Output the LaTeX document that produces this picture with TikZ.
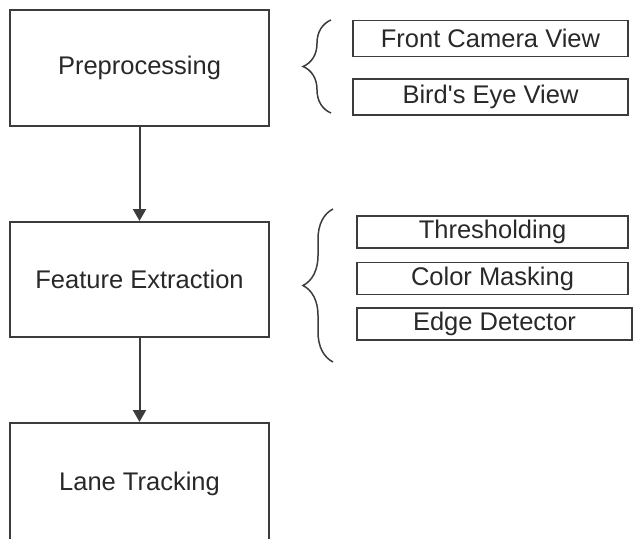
\documentclass[tikz,border=0pt]{standalone}
\usepackage{fontspec}
\setsansfont{Liberation Sans}
\usetikzlibrary{arrows.meta, positioning, calc, decorations.pathreplacing}
\definecolor{lnGray}{RGB}{60,60,60}
\definecolor{txGray}{RGB}{40,40,40}

\begin{document}
\begin{tikzpicture}[
    x=1pt, y=-1pt,
    font=\sffamily,
    stage/.style={draw=lnGray, line width=2pt, inner sep=0pt,
                  minimum width=259pt, minimum height=116pt,
                  text=txGray, font=\fontsize{25.5}{30}\selectfont\sffamily},
    sub/.style={draw=lnGray, line width=1.5pt, inner sep=0pt,
                minimum width=275pt, minimum height=36pt,
                text=txGray, font=\fontsize{25.5}{30}\selectfont\sffamily},
    flow/.style={-{Triangle[length=12pt, width=13pt]}, line width=2pt, draw=lnGray},
    curly/.style={decorate, decoration={brace, amplitude=28pt},
                  line width=1.5pt, draw=lnGray}
]
\useasboundingbox (0,0) rectangle (634,538);

% main pipeline
\node[stage] (prep) at (139.5,68) {Preprocessing};
\node[stage, minimum height=115pt] (feat) at (139.5,279.5) {Feature Extraction};
\node[stage, minimum height=122pt] (lane) at (139.5,484) {Lane Tracking};

\draw[flow] (prep) -- (feat);
\draw[flow] (feat) -- (lane);

% preprocessing views
\node[sub] (front) at (490.5,38.5) {Front Camera View};
\node[sub, below=21pt of front] (bird) {Bird\textquotesingle s Eye View};

% feature extraction methods
\node[sub, minimum width=271pt, minimum height=32pt] (thresh) at (492.5,232) {Thresholding};
\node[sub, minimum width=271pt, minimum height=32pt, below=13pt of thresh] (mask) {Color Masking};
\node[sub, minimum height=32pt, below=12pt of mask, xshift=2pt] (edge) {Edge Detector};

% braces
\coordinate (b1-top) at (331,20);
\coordinate (b1-bot) at (331,113);
\draw[curly] (b1-bot) -- (b1-top);

\coordinate (b2-top) at (333,209);
\coordinate (b2-bot) at (333,362);
\draw[curly, decoration={amplitude=30pt}] (b2-bot) -- (b2-top);

\end{tikzpicture}
\end{document}
